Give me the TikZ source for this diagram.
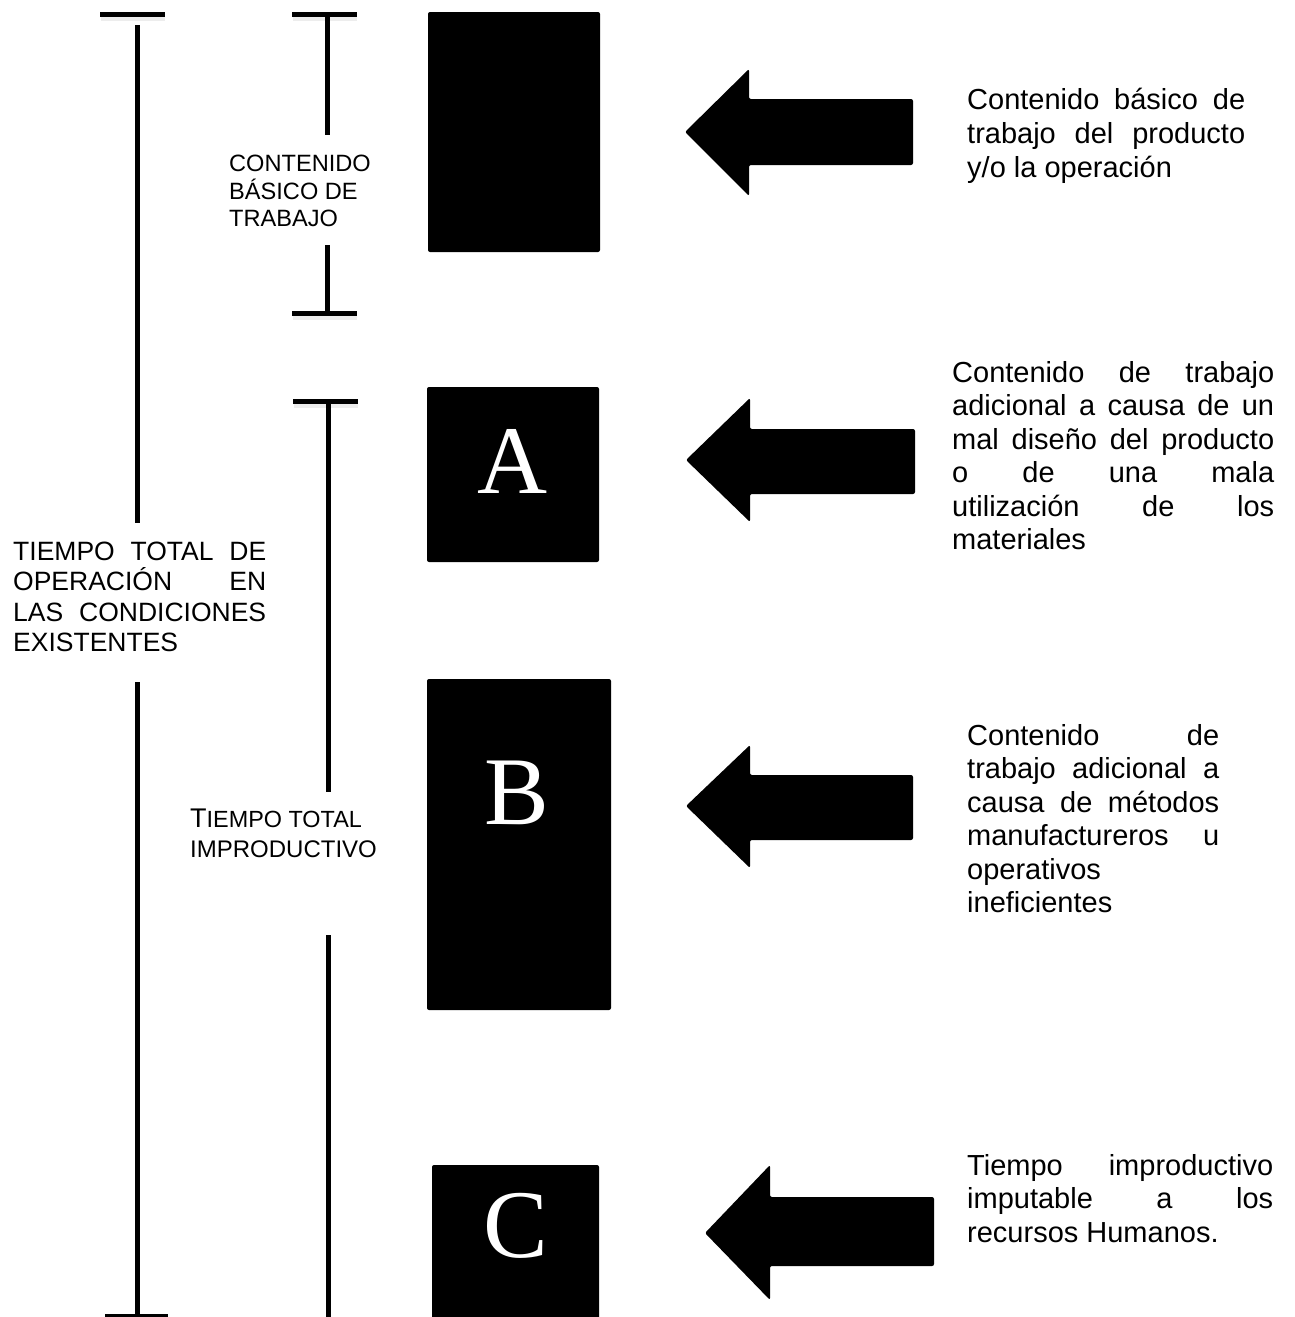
\documentclass[tikz,border=0pt]{standalone}
\usepackage{fontspec}
\setmainfont{Liberation Sans}
\newfontfamily\letterfont{Liberation Serif}
% one justified line of a paragraph, spread to the given width
\newcommand\jline[2]{\makebox[#1][s]{#2}}
\begin{document}
\begin{tikzpicture}[x=1pt,y=-1pt,
  bar/.style={line width=5pt},
  capshadow/.style={line width=4pt, draw=black!7},
  block/.style={fill=black, rounded corners=2pt, inner sep=0, draw=none},
  pointer/.style={fill=black, rounded corners=2pt},
  letter/.style={text=white, font=\letterfont\fontsize{97}{97}\selectfont, inner sep=0, anchor=base},
  desc/.style={anchor=base west, inner sep=0, font=\fontsize{29}{34}\selectfont},
  bigcap/.style={anchor=base west, inner sep=0, font=\fontsize{26.5}{30}\selectfont},
  smallcap/.style={anchor=base west, inner sep=0, font=\fontsize{23.6}{27}\selectfont}]

\useasboundingbox (0,0) rectangle (1295,1317);
\clip (0,0) rectangle (1295,1317);

% ---- dimension bars: total operation time ----
\draw[capshadow] (101,19) -- (165,19);
\draw[bar] (100,14.5) -- (165,14.5);
\draw[bar] (137,25) -- (137,523);
\draw[bar] (137,682) -- (137,1314);
\draw[bar] (105,1316.5) -- (168,1316.5);

% ---- basic work content ----
\draw[capshadow] (293,19) -- (357,19);
\draw[bar] (292,14.5) -- (357,14.5);
\draw[bar] (327.5,14.5) -- (327.5,135);
\draw[bar] (327.5,245) -- (327.5,313.5);
\draw[capshadow] (293,318) -- (357,318);
\draw[bar] (292,313.5) -- (357,313.5);

% ---- total ineffective time ----
\draw[capshadow] (294,405.5) -- (358,405.5);
\draw[bar] (293,401) -- (358,401);
\draw[bar] (328,401) -- (328,792);
\draw[bar] (328,935) -- (328,1320);

% ---- left labels ----
\node[smallcap] (lb1) at (229,171) {CONTENIDO};
\node[smallcap] (lb2) at (229,199) {BÁSICO DE};
\node[smallcap] (lb3) at (229,226) {TRABAJO};

\node[bigcap] (lt1) at (13,560) {\jline{253pt}{TIEMPO TOTAL DE}};
\node[bigcap] (lt2) at (13,590.5) {\jline{253pt}{OPERACIÓN EN}};
\node[bigcap] (lt3) at (13,621) {\jline{253pt}{LAS CONDICIONES}};
\node[bigcap] (lt4) at (13,651.5) {EXISTENTES};

\node[smallcap] (li1) at (190,827) {{\fontsize{27}{27}\selectfont T}{\fontsize{23.4}{27}\selectfont IEMPO TOTAL}};
\node[smallcap] (li2) at (190,857) {\fontsize{24}{27}\selectfont IMPRODUCTIVO};

% ---- blocks ----
\node[block, minimum width=172pt, minimum height=240pt] (b0) at (514,132) {};
\node[block, minimum width=172pt, minimum height=175pt] (bA) at (513,474.5) {};
\node[block, minimum width=184pt, minimum height=331pt] (bB) at (519,844.5) {};
\node[block, minimum width=167pt, minimum height=160pt] (bC) at (515.5,1245) {};

\node[letter] (lA) at (513,493) {A};
\node[letter] (lB) at (517,824) {B};
\node[letter] (lC) at (516,1257) {C};

% ---- arrows ----
\fill[pointer] (685,132) -- (749,69) -- (749,99) -- (913,99) -- (913,165) -- (749,165) -- (749,196) -- cycle;
\fill[pointer] (686,460) -- (750,398) -- (750,429) -- (915,429) -- (915,494) -- (750,494) -- (750,522) -- cycle;
\fill[pointer] (686,806) -- (750,745) -- (750,775) -- (913,775) -- (913,840) -- (750,840) -- (750,868) -- cycle;
\fill[pointer] (705,1233) -- (770,1165) -- (770,1197) -- (934,1197) -- (934,1266) -- (770,1266) -- (770,1300) -- cycle;

% ---- descriptions ----
\node[desc] (d1a) at (967,109) {\jline{278pt}{Contenido básico de}};
\node[desc] (d1b) at (967,143) {\jline{278pt}{trabajo del producto}};
\node[desc] (d1c) at (967,177) {y/o la operación};

\node[desc] (d2a) at (952,382) {\jline{322pt}{Contenido de trabajo}};
\node[desc] (d2b) at (952,415.5) {\jline{322pt}{adicional a causa de un}};
\node[desc] (d2c) at (952,449) {\jline{322pt}{mal diseño del producto}};
\node[desc] (d2d) at (952,482.5) {\jline{322pt}{o de una mala}};
\node[desc] (d2e) at (952,516) {\jline{322pt}{utilización de los}};
\node[desc] (d2f) at (952,549.5) {materiales};

\node[desc] (d3a) at (967,745) {\jline{252pt}{Contenido de}};
\node[desc] (d3b) at (967,778.5) {\jline{252pt}{trabajo adicional a}};
\node[desc] (d3c) at (967,812) {\jline{252pt}{causa de métodos}};
\node[desc] (d3d) at (967,845.5) {\jline{252pt}{manufactureros u}};
\node[desc] (d3e) at (967,879) {operativos};
\node[desc] (d3f) at (967,912.5) {ineficientes};

\node[desc] (d4a) at (967,1175) {\jline{306pt}{Tiempo improductivo}};
\node[desc] (d4b) at (967,1208.5) {\jline{306pt}{imputable a los}};
\node[desc] (d4c) at (967,1242) {recursos Humanos.};
\end{tikzpicture}
\end{document}
